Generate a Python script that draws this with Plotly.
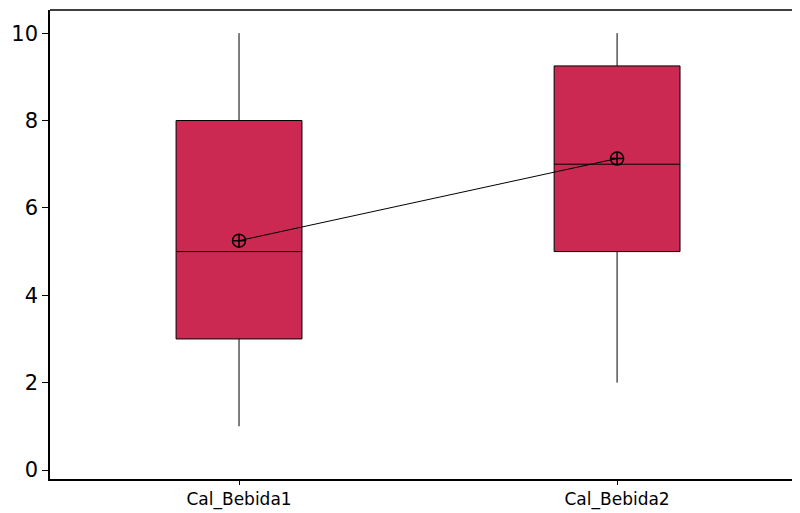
import plotly.graph_objects as go

categories = ["Cal_Bebida1", "Cal_Bebida2"]
lower_whisker = [1, 2]
q1_vals = [3, 5]
median_vals = [5, 7]
q3_vals = [8, 9.25]
upper_whisker = [10, 10]
mean_vals = [5.25, 7.13]
y_ticks = [0, 2, 4, 6, 8, 10]

xpos = list(range(len(categories)))

fig = go.Figure()
fig.add_trace(go.Box(
    x=xpos,
    q1=q1_vals, median=median_vals, q3=q3_vals,
    lowerfence=lower_whisker, upperfence=upper_whisker,
    width=0.333, whiskerwidth=0,
    fillcolor="#CC2952",
    line=dict(color="black", width=1),
    hoverinfo="skip",
    showlegend=False,
))
fig.add_trace(go.Scatter(
    x=xpos, y=mean_vals, mode="lines+markers",
    line=dict(color="black", width=1),
    marker=dict(symbol="circle-cross-open", size=13, color="black", line=dict(width=1.5)),
    showlegend=False,
))

fig.add_shape(type="line", xref="paper", yref="paper", x0=0, x1=1, y0=1, y1=1,
              line=dict(color="black", width=1.5))

fig.update_layout(
    width=800, height=513,
    margin=dict(l=42, r=0, t=2, b=42),
    paper_bgcolor="white", plot_bgcolor="white",
    font=dict(family="DejaVu Sans", color="black"),
)
fig.update_xaxes(
    range=[-0.5, 1.505], tickvals=xpos, ticktext=categories,
    showgrid=False, zeroline=False,
    showline=True, linecolor="black", linewidth=1.5,
    ticks="outside", ticklen=4, tickcolor="black",
    tickfont=dict(size=17),
)
fig.update_yaxes(
    range=[-0.206, 10.53], tickvals=y_ticks,
    showgrid=False, zeroline=False,
    showline=True, linecolor="black", linewidth=1.5,
    ticks="outside", ticklen=6, tickcolor="black",
    tickfont=dict(size=21),
)

fig.write_html("out.html")
